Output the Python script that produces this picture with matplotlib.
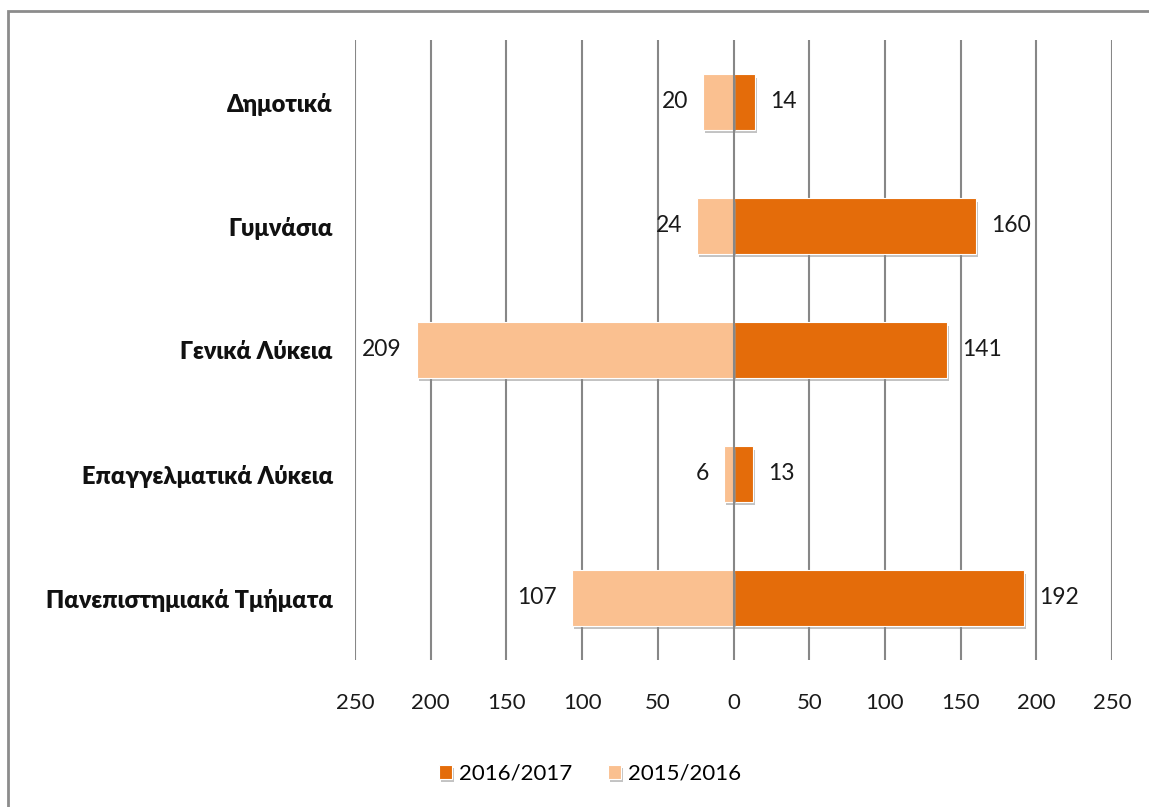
import numpy as np
import matplotlib.pyplot as plt
import matplotlib.patheffects as pe
from matplotlib.patches import Rectangle

categories = ["Δημοτικά", "Γυμνάσια", "Γενικά Λύκεια", "Επαγγελματικά Λύκεια", "Πανεπιστημιακά Τμήματα"]
values_1617 = [14, 160, 141, 13, 192]
values_1516 = [20, 24, 209, 6, 107]
xticks = [-250, -200, -150, -100, -50, 0, 50, 100, 150, 200, 250]

dark = "#E46C0A"
light = "#FAC090"
grid_col = "#878787"

plt.rcParams["font.family"] = ["Lato", "DejaVu Sans"]

fig = plt.figure(figsize=(11.49, 8.07), dpi=100)
fig.patches.append(Rectangle((8 / 1149, -0.1), 1.2, 1 - 11 / 807 + 0.1, transform=fig.transFigure,
                             fill=False, edgecolor="#8c8c8c", linewidth=2))
ax = fig.add_axes([355 / 1149, 1 - 660 / 807, 757 / 1149, 620 / 807])

y = np.arange(len(categories))
shadow = [pe.SimplePatchShadow(offset=(1.5, -2.5), shadow_rgbFace="#888888", alpha=0.5), pe.Normal()]
b1 = ax.barh(y, values_1617, height=0.45, color=dark, edgecolor="white", linewidth=0.8,
             label="2016/2017", zorder=3, path_effects=shadow)
b2 = ax.barh(y, [-v for v in values_1516], height=0.45, color=light, edgecolor="white", linewidth=0.8,
             label="2015/2016", zorder=3, path_effects=shadow)

for i, v in enumerate(values_1617):
    ax.text(v + 10, i, str(v), va="center", ha="left", fontsize=16.5, color="#1a1a1a", zorder=5)
for i, v in enumerate(values_1516):
    ax.text(-v - 10, i, str(v), va="center", ha="right", fontsize=16.5, color="#1a1a1a", zorder=5)

ax.set_xlim(-250, 250)
ax.set_ylim(len(categories) - 0.5, -0.5)
ax.set_xticks(xticks)
ax.set_xticklabels([str(abs(t)) for t in xticks], fontsize=16, color="#1a1a1a")
ax.set_yticks(y)
ax.set_yticklabels(categories, fontsize=17, fontweight="heavy", color="#111111")
ax.tick_params(axis="x", length=0, pad=24)
ax.tick_params(axis="y", length=0, pad=16)
for s in ax.spines.values():
    s.set_visible(False)
for t in xticks:
    ax.axvline(t, color=grid_col, linewidth=1.5, zorder=1 if t != 0 else 4)

ax.legend(handles=[b1, b2], loc="upper center", bbox_to_anchor=(0.31, -0.135), ncol=2, frameon=False,
          fontsize=16, handlelength=0.6, handleheight=0.6, handletextpad=0.3, columnspacing=1.6)

fig.savefig("out.png", dpi=100)
